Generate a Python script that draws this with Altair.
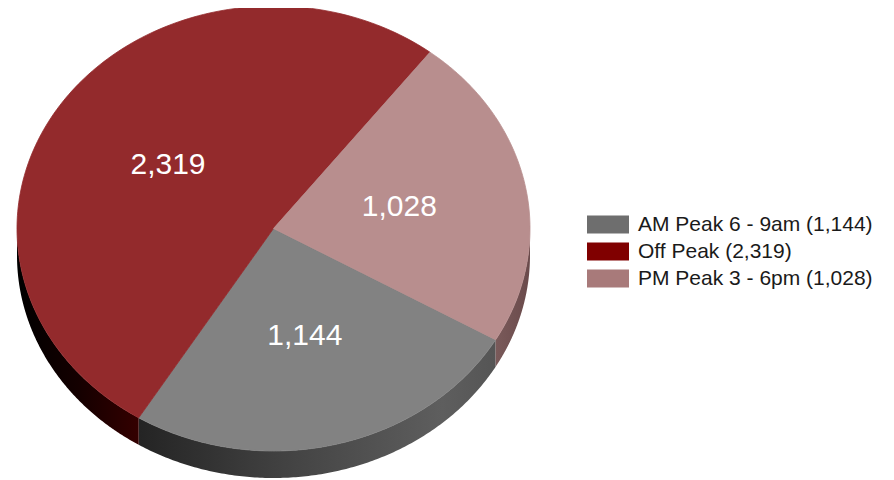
import math
import altair as alt
import pandas as pd

# ---------------- data ----------------
categories = ["AM Peak 6 - 9am", "Off Peak", "PM Peak 3 - 6pm"]
values = [1144, 2319, 1028]
legend_labels = [f"{c} ({v:,})" for c, v in zip(categories, values)]

# ---------------- styles ----------------
top_colors = ["#828282", "#932a2c", "#b88e8e"]
legend_colors = ["#6e6e6e", "#800000", "#a87a7a"]
side_stops = {
    "AM Peak 6 - 9am": [("#242424", 0.0), ("#454545", 0.45), ("#5e5e5e", 0.85), ("#555555", 1.0)],
    "Off Peak": [("#000000", 0.0), ("#140000", 0.5), ("#340000", 1.0)],
    "PM Peak 3 - 6pm": [("#7a5a5a", 0.0), ("#6a4a4b", 1.0)],
}

# ---------------- geometry (page pixels) ----------------
CX, CY, RX, RY, DEPTH = 273.5, 228.5, 256.5, 222.5, 27
START = 120.0   # first slice starts at this angle, clockwise from 12 o'clock
NPTS = 160
W, H = 878, 472


def pt(theta_deg, r=1.0, dy=0.0):
    t = math.radians(theta_deg)
    return CX + r * RX * math.sin(t), CY - r * RY * math.cos(t) + dy


total = sum(values)
spans = []
a = START
for c, v in zip(categories, values):
    b = a + 360.0 * v / total
    spans.append((c, v, a, b))
    a = b

# top faces
top_rows = []
for c, v, a0, a1 in spans:
    i = 0
    top_rows.append({"slice": c, "i": i, "x": CX, "y": CY}); i += 1
    for k in range(NPTS + 1):
        x, y = pt(a0 + (a1 - a0) * k / NPTS)
        top_rows.append({"slice": c, "i": i, "x": x, "y": y}); i += 1
    top_rows.append({"slice": c, "i": i, "x": CX, "y": CY})
top_df = pd.DataFrame(top_rows)

# visible side walls (front half of the ellipse)
side_rows = []
for c, v, a0, a1 in spans:
    for k360 in (-1, 0, 1):
        lo = max(a0, 90 + 360 * k360)
        hi = min(a1, 270 + 360 * k360)
        if hi <= lo:
            continue
        i = 0
        for k in range(NPTS + 1):
            x, y = pt(lo + (hi - lo) * k / NPTS)
            side_rows.append({"slice": c, "i": i, "x": x, "y": y}); i += 1
        for k in range(NPTS + 1):
            x, y = pt(hi - (hi - lo) * k / NPTS, dy=DEPTH)
            side_rows.append({"slice": c, "i": i, "x": x, "y": y}); i += 1
side_df = pd.DataFrame(side_rows)

# labels
lab_rows = []
for c, v, a0, a1 in spans:
    x, y = pt((a0 + a1) / 2, r=0.5)
    lab_rows.append({"slice": c, "value": v, "x": x, "y": y})
lab_df = pd.DataFrame(lab_rows)

legend_df = pd.DataFrame({"label": legend_labels, "value": values})

xs = alt.Scale(domain=[8, 8 + W], nice=False, zero=False)
ys = alt.Scale(domain=[8, 8 + H], nice=False, zero=False, reverse=True)
X = lambda: alt.X("x:Q", scale=xs, axis=None)
Y = lambda: alt.Y("y:Q", scale=ys, axis=None)

layers = []
for c in categories:
    sub = side_df[side_df["slice"] == c]
    if sub.empty:
        continue
    grad = alt.LinearGradient(
        gradient="linear",
        stops=[alt.GradientStop(color=col, offset=off) for col, off in side_stops[c]],
        x1=0, x2=1, y1=0, y2=0,
    )
    layers.append(
        alt.Chart(sub).mark_line(fill=grad, strokeWidth=0, interpolate="linear").encode(
            x=X(), y=Y(), order="i:Q"
        )
    )

top = alt.Chart(top_df).mark_line(filled=True, strokeWidth=0.8, interpolate="linear").encode(
    x=X(), y=Y(),
    color=alt.Color("slice:N", scale=alt.Scale(domain=categories, range=top_colors), legend=None),
    stroke=alt.Stroke("slice:N", scale=alt.Scale(domain=categories, range=top_colors), legend=None),
    detail="slice:N",
    order="i:Q",
)
layers.append(top)

labels = alt.Chart(lab_df).mark_text(
    color="#ffffff", fontSize=30, font="Liberation Sans", align="center", baseline="middle"
).encode(x=X(), y=Y(), text=alt.Text("value:Q", format=","))
layers.append(labels)

legend_layer = alt.Chart(legend_df).mark_square(size=0).encode(
    x=alt.value(0), y=alt.value(0),
    color=alt.Color(
        "label:N",
        sort=legend_labels,
        scale=alt.Scale(domain=legend_labels, range=legend_colors),
        legend=alt.Legend(
            title=None, orient="none", legendX=589.5, legendY=206,
            symbolType="M-2,-0.86H2V0.86H-2Z", symbolSize=441,
            symbolStrokeWidth=0, symbolOpacity=1,
            labelFont="Liberation Sans", labelFontSize=21, labelColor="#1a1a1a",
            labelOffset=19.5, rowPadding=5, padding=0, labelLimit=500,
        ),
    ),
)
layers.append(legend_layer)

chart = alt.layer(*layers).resolve_scale(color="independent").properties(
    width=W, height=H, padding=0, autosize=alt.AutoSizeParams(type="none"),
    background="#ffffff",
).configure_view(strokeWidth=0)

chart.save("out.html", embed_options={"renderer": "svg", "actions": False})
